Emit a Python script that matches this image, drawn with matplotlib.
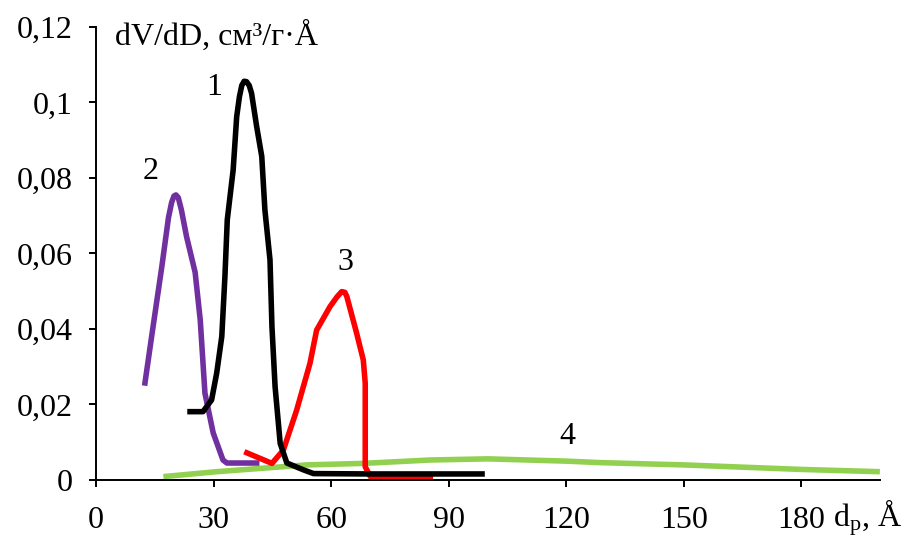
import matplotlib.pyplot as plt
from matplotlib.ticker import FuncFormatter

plt.rcParams['font.family'] = ['Liberation Serif', 'DejaVu Serif']
plt.rcParams['mathtext.fontset'] = 'custom'
plt.rcParams['mathtext.rm'] = 'Liberation Serif'
plt.rcParams['mathtext.it'] = 'Liberation Serif:italic'

# кривая 1 (черная)
x1 = [24, 27.3, 29.5, 30.8, 32.1, 32.9, 33.5, 35.0, 35.9, 36.6, 37.2, 37.8, 38.4, 39.1,
      39.7, 41.0, 42.3, 43.1, 44.4, 44.9, 45.7, 47.0, 48.7, 52.9, 55.5, 70, 98.5]
y1 = [0.0181, 0.0181, 0.0212, 0.0283, 0.038, 0.0539, 0.0689, 0.0821, 0.0962, 0.1015,
      0.1045, 0.1056, 0.1055, 0.1045, 0.1024, 0.0936, 0.0857, 0.0715, 0.0583, 0.0406,
      0.0247, 0.0097, 0.0045, 0.0027, 0.0017, 0.0016, 0.0016]

# кривая 2 (фиолетовая)
x2 = [12.5, 14.2, 16.8, 18.5, 19.3, 19.9, 20.4, 21.0, 21.8, 23.1, 25.3, 26.6, 27.8,
      29.9, 32.4, 33.4, 41.0]
y2 = [0.0257, 0.038, 0.0565, 0.0695, 0.0735, 0.0752, 0.0755, 0.0748, 0.0715, 0.0645,
      0.055, 0.0424, 0.023, 0.0125, 0.0053, 0.0045, 0.0045]

# кривая 3 (красная)
x3 = [38.5, 44.9, 47.8, 51.2, 54.6, 56.3, 59.7, 61.5, 62.7, 63.5, 64.0, 66.5, 68.2,
      68.7, 68.7, 68.7, 70.0, 75.0, 85.3]
y3 = [0.0072, 0.0044, 0.0079, 0.0185, 0.0309, 0.0397, 0.0459, 0.0485, 0.0499, 0.0497,
      0.0486, 0.0389, 0.0318, 0.0256, 0.0079, 0.0035, 0.0009, 0.0005, 0.0005]

# кривая 4 (зеленая)
x4 = [17.2, 30.8, 41.0, 53.8, 68.2, 85.3, 100, 120, 128.7, 150, 180, 200]
y4 = [0.0009, 0.0022, 0.003, 0.004, 0.0044, 0.0053, 0.0056, 0.005, 0.0046, 0.004,
      0.0028, 0.0022]

xticks = [0, 30, 60, 90, 120, 150, 180]
yticks = [0, 0.02, 0.04, 0.06, 0.08, 0.1, 0.12]

fig = plt.figure(figsize=(9.08, 5.38), dpi=100)
ax = fig.add_axes([0.1057, 0.1078, 0.969 - 0.1057, 0.95 - 0.1078])

lw = 4
fs = 23
ax.plot(x4, y4, color='#92D050', lw=lw, solid_capstyle='butt')
ax.plot(x2, y2, color='#7030A0', lw=lw, solid_joinstyle='round')
ax.plot(x3, y3, color='#FF0000', lw=lw, solid_joinstyle='round')
ax.plot(x1, y1, color='black', lw=lw, solid_joinstyle='round')

ax.set_xlim(0, 200)
ax.set_ylim(0, 0.12)
ax.set_xticks(xticks)
ax.set_yticks(yticks)
ax.yaxis.set_major_formatter(FuncFormatter(lambda v, p: ('%g' % round(v, 3)).replace('.', ',')))

for s in ['top', 'right']:
    ax.spines[s].set_visible(False)
for s in ['left', 'bottom']:
    ax.spines[s].set_linewidth(1.4)
ax.tick_params(axis='x', direction='out', length=5, width=1.4, pad=14, labelsize=fs)
ax.tick_params(axis='y', direction='out', length=5, width=1.4, pad=12, labelsize=fs)

ax.text(30.1, 0.104, '1', fontsize=fs, ha='center', va='center')
ax.text(14, 0.0816, '2', fontsize=fs, ha='center', va='center')
ax.text(63.6, 0.0577, '3', fontsize=fs, ha='center', va='center')
ax.text(120.2, 0.0114, '4', fontsize=fs, ha='center', va='center')

fig.text(115 / 908, 1 - 36 / 538, 'dV/dD, см³/г·Å', fontsize=fs, ha='left', va='center')
fig.text(902 / 908, 1 - 518 / 538, 'd$_\\mathregular{p}$, Å', fontsize=fs, ha='right', va='center')

fig.savefig('out.png', dpi=100)
